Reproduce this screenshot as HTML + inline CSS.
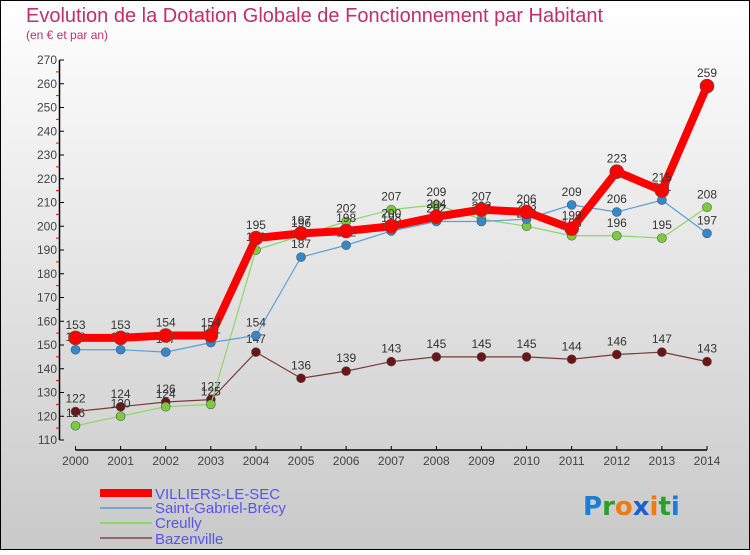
<!DOCTYPE html>
<html><head><meta charset="utf-8">
<style>
html,body{margin:0;padding:0;}
body{width:750px;height:550px;overflow:hidden;font-family:"Liberation Sans",sans-serif;}
</style></head>
<body>
<svg id="chart" width="750" height="550" xmlns="http://www.w3.org/2000/svg">
<defs>
<linearGradient id="bg" x1="0" y1="0" x2="0" y2="1">
<stop offset="0" stop-color="#ffffff"/><stop offset="1" stop-color="#c9c9c9"/>
</linearGradient>
</defs>
<rect x="0.5" y="0.5" width="749" height="549" fill="url(#bg)" stroke="#000" stroke-width="1"/>
<text x="26" y="22" font-size="20" fill="#c0306a">Evolution de la Dotation Globale de Fonctionnement par Habitant</text>
<text x="26" y="39" font-size="12" fill="#c0306a">(en € et par an)</text>
<g id="axes"></g>
<g id="series"></g>
<g id="legend">
<rect x="100" y="489" width="52" height="8" fill="#f00"/>
<text x="155" y="499" font-size="15" fill="#5555ee">VILLIERS-LE-SEC</text>
<line x1="100" y1="508" x2="152" y2="508" stroke="#7aa6cc" stroke-width="2"/>
<text x="155" y="513" font-size="15" fill="#5555ee">Saint-Gabriel-Brécy</text>
<line x1="100" y1="523" x2="152" y2="523" stroke="#8ed66a" stroke-width="2"/>
<text x="155" y="528" font-size="15" fill="#5555ee">Creully</text>
<line x1="100" y1="538" x2="152" y2="538" stroke="#996666" stroke-width="2"/>
<text x="155" y="544" font-size="15" fill="#5555ee">Bazenville</text>
</g>
<text x="583" y="515" font-size="26" font-weight="bold" font-family="'DejaVu Sans',sans-serif"><tspan fill="#1a7fd4">P</tspan><tspan fill="#2aa02a">r</tspan><tspan fill="#f07a10">o</tspan><tspan fill="#1a60d0">x</tspan><tspan fill="#f07a10">i</tspan><tspan fill="#2aa02a">t</tspan><tspan fill="#1a7fd4">i</tspan></text>
</svg>
<script>
const years = [2000,2001,2002,2003,2004,2005,2006,2007,2008,2009,2010,2011,2012,2013,2014];
const yTicks = [110,120,130,140,150,160,170,180,190,200,210,220,230,240,250,260,270];
const villiers = [153,153,154,154,195,197,198,200,204,207,206,199,223,215,259];
const saintGabriel = [148,148,147,151,154,187,192,198,202,202,203,209,206,211,197];
const creully = [116,120,124,125,190,196,202,207,209,203,200,196,196,195,208];
const bazenville = [122,124,126,127,147,136,139,143,145,145,145,144,146,147,143];

const NS = "http://www.w3.org/2000/svg";
function xS(i){ return 75.5 + i*(707-75.5)/(years.length-1); }
function yS(v){ return 440 - (v-110)*(380/160); }
function mk(tag, attrs, parent){ const e=document.createElementNS(NS,tag); for(const k in attrs) e.setAttribute(k,attrs[k]); parent.appendChild(e); return e; }
const axes=document.getElementById('axes');
const ser=document.getElementById('series');

let yl=mk('line',{x1:59.5,y1:60,x2:59.5,y2:440,stroke:'#000','stroke-width':1.5},axes);


yTicks.forEach(v=>{
  const y=yS(v);
  let t=mk('line',{x1:59.5,y1:y,x2:64,y2:y,stroke:'#000'},axes);
  
  
  if(v<270){
    let m=mk('line',{x1:56,y1:yS(v+5),x2:59,y2:yS(v+5),stroke:'#e00'},axes);
    
    
  }
  let l=mk('text',{x:57,y:y+4,'font-size':12,fill:'#444','text-anchor':'end'},axes);
  
  
  l.textContent=v;
});
let xl=mk('line',{x1:75.5,y1:450,x2:707,y2:450,stroke:'#000','stroke-width':1.5},axes);


years.forEach((yr,i)=>{
  const x=xS(i);
  let t=mk('line',{x1:x,y1:446,x2:x,y2:450,stroke:'#000'},axes);
  
  
  let l=mk('text',{x:x,y:465,'font-size':12,fill:'#444','text-anchor':'middle'},axes);
  
  
  l.textContent=yr;
});

function drawSeries(vals,name,color,lw,r,dot){
  const g=mk('g',{},ser);
  
  
  const pts=vals.map((v,i)=>xS(i)+','+yS(v)).join(' ');
  let pl=mk('polyline',{points:pts,fill:'none',stroke:color,'stroke-width':lw,'stroke-linejoin':'round'},g);
  
  
  vals.forEach((v,i)=>{
    let c=mk('circle',{cx:xS(i),cy:yS(v),r:r,fill:dot,stroke:'#555','stroke-width':0.6},g);
    
    
    let l=mk('text',{x:xS(i),y:yS(v)-9,'font-size':12,fill:'#333','text-anchor':'middle'},g);
    
    
    l.textContent=v;
  });
}
drawSeries(bazenville,'bazenville','#7a3a3a',1.2,4.5,'#6b1515');
drawSeries(creully,'creully','#8ed66a',1.2,4.5,'#7acc3c');
drawSeries(saintGabriel,'saint-gabriel','#5aa0d8',1.2,4.5,'#3388cc');
drawSeries(villiers,'villiers','#f00',8,7,'#f00');
</script>
</body></html>
